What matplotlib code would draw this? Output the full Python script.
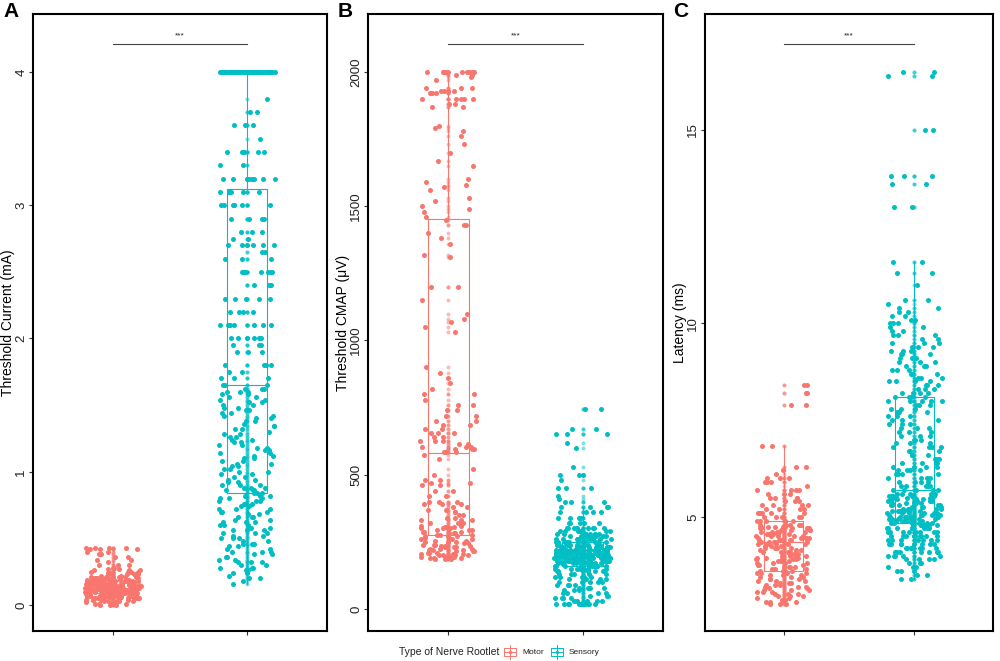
import numpy as np
import matplotlib.pyplot as plt

plt.rcParams['font.family'] = ['Liberation Sans', 'DejaVu Sans']

MOTOR_COL = '#F8766D'
SENS_COL = '#00BFC4'

# --- Panel A: threshold current (mA) (value, count)
motor_current_vals = [0.00, 0.01, 0.02, 0.03, 0.04, 0.05, 0.06, 0.07, 0.08, 0.09, 0.10, 0.11,
                      0.12, 0.13, 0.14, 0.15, 0.16, 0.17, 0.18, 0.19, 0.20, 0.21, 0.22, 0.23,
                      0.24, 0.25, 0.26, 0.27, 0.28, 0.30, 0.32, 0.34, 0.36, 0.38, 0.40, 0.42, 0.43]
motor_current_counts = [3, 3, 4, 5, 6, 8, 9, 10, 11, 12, 14, 14, 15, 14, 13, 12, 11, 10, 9, 8, 7, 6,
                        5, 4, 4, 4, 3, 2, 2, 3, 1, 2, 2, 2, 2, 3, 4]

sens_current_vals = [0.16, 0.18, 0.20, 0.22, 0.24, 0.26, 0.28, 0.30, 0.32, 0.34, 0.36, 0.38, 0.40,
                     0.42, 0.44, 0.46, 0.48, 0.50, 0.52, 0.54, 0.56, 0.58, 0.60, 0.62, 0.64, 0.66,
                     0.68, 0.70, 0.72, 0.74, 0.76, 0.78, 0.80, 0.82,
                     0.84, 0.86, 0.88, 0.90, 0.92, 0.94, 0.96, 0.98, 1.00, 1.02, 1.04, 1.06, 1.08,
                     1.10, 1.12, 1.14, 1.16, 1.18, 1.20, 1.22, 1.24, 1.26, 1.28, 1.30, 1.32, 1.34,
                     1.36, 1.38, 1.40, 1.42, 1.44, 1.46, 1.48, 1.50, 1.52, 1.54, 1.56, 1.58, 1.60, 1.62,
                     1.65, 1.70, 1.75, 1.80, 1.90, 1.95, 2.00, 2.10, 2.20, 2.30, 2.40, 2.50, 2.60,
                     2.65, 2.70, 2.75, 2.80, 2.90, 3.00, 3.10,
                     3.20, 3.30, 3.40, 3.50, 3.60, 3.70, 3.80, 4.00]
sens_current_counts = [1, 1, 2, 1, 2, 2, 3, 2, 3, 2, 2, 2, 3, 2, 2, 3, 2, 3, 2, 3, 3, 2, 3, 3, 2, 3,
                       2, 3, 3, 2, 3, 3, 3, 3,
                       3, 3, 3, 3, 2, 2, 2, 2, 2, 2, 2, 2, 2, 2, 2, 2, 2, 2, 2, 2, 2, 2, 2, 1, 2, 2,
                       1, 2, 2, 2, 2, 2, 2, 2, 2, 2, 2, 2, 3, 3,
                       3, 3, 2, 4, 3, 3, 6, 7, 4, 5, 4, 7, 3, 2, 6, 2, 3, 4, 7, 6,
                       8, 2, 5, 1, 3, 2, 1, 61]

# --- Panel B: threshold CMAP (uV)
motor_cmap_vals = [185, 190, 195, 200, 205, 210, 215, 220, 225, 230, 235, 240, 245, 250, 255, 260,
                   265, 270, 275,
                   282, 288, 295, 300, 305, 310, 320, 330, 340, 350, 360, 370, 380, 390, 400, 420,
                   440, 460, 470, 480, 500, 520, 560, 575,
                   585, 595, 605, 615, 625, 640, 655, 670, 685, 700, 720, 740, 760, 780, 800, 820,
                   840, 860, 880, 900, 1030, 1050, 1070, 1080, 1100, 1150, 1200, 1310, 1320, 1360,
                   1380, 1400, 1430,
                   1450, 1460, 1480, 1490, 1500, 1520, 1530, 1560, 1570, 1580, 1590, 1600, 1650,
                   1670, 1700, 1730, 1760, 1780, 1790, 1800, 1870, 1880, 1900, 1920, 1930, 1940,
                   1970, 1980, 1990, 2000]
motor_cmap_counts = [3, 4, 4, 4, 3, 3, 3, 3, 3, 3, 3, 3, 2, 3, 2, 3, 2, 3, 3,
                     3, 3, 3, 3, 3, 2, 3, 3, 2, 2, 2, 2, 2, 3, 3, 2, 2, 2, 2, 2, 1, 1, 1, 1,
                     3, 3, 3, 2, 3, 2, 3, 2, 2, 2, 2, 2, 2, 1, 2, 1, 1, 1, 1, 1, 1, 1, 1, 1, 1,
                     1, 2, 1, 1, 1, 1, 1, 2,
                     1, 1, 1, 1, 1, 1, 1, 1, 1, 1, 1, 1, 1, 1, 1, 1, 1, 1, 1, 1, 2, 2, 5, 4, 4,
                     3, 1, 1, 2, 12]

sens_cmap_vals = [20, 30, 40, 50, 60, 70, 80, 90, 100, 110, 120, 130, 140, 150, 160, 170, 180, 190,
                  200, 210, 220, 230, 240, 250, 260, 270, 280, 290, 300, 320, 340, 360, 380, 400,
                  410, 420, 450, 480, 500, 530, 600, 620, 650, 670, 746]
sens_cmap_counts = [12, 5, 4, 3, 4, 3, 4, 4, 5, 4, 5, 5, 6, 8, 12, 14, 18, 22, 25, 25, 22, 18, 14,
                    12, 10, 8, 8, 6, 8, 5, 4, 4, 4, 3, 1, 1, 3, 1, 3, 1, 1, 1, 3, 2, 2]

# --- Panel C: latency (ms)
motor_lat_vals = [2.75, 2.80, 2.85, 2.90, 2.95, 3.00, 3.05, 3.10, 3.15, 3.20, 3.25, 3.30, 3.35,
                  3.40, 3.45, 3.50, 3.55,
                  3.60, 3.65, 3.70, 3.75, 3.80, 3.85, 3.90, 3.95, 4.00, 4.05, 4.10, 4.15, 4.20, 4.25,
                  4.30, 4.35, 4.40, 4.45, 4.50, 4.55, 4.60, 4.65, 4.70, 4.75, 4.80,
                  4.90, 5.00, 5.10, 5.20, 5.30, 5.40, 5.50, 5.60, 5.70, 5.80, 5.90, 6.00, 6.10,
                  6.20, 6.30, 6.83, 7.90, 8.20, 8.40]
motor_lat_counts = [3, 3, 3, 2, 3, 3, 3, 3, 2, 3, 3, 3, 3, 3, 3, 3, 4,
                    4, 3, 4, 3, 4, 3, 4, 3, 4, 3, 4, 3, 4, 3,
                    5, 5, 5, 5, 5, 5, 5, 5, 5, 5, 5,
                    6, 5, 5, 4, 4, 3, 4, 3, 4, 1, 3, 3, 1, 1, 2, 2, 2, 2, 2]

sens_lat_vals = [3.40, 3.50, 3.60, 3.70, 3.80, 3.90, 4.00, 4.10, 4.20, 4.30, 4.40, 4.50, 4.60,
                 4.70, 4.80,
                 4.85, 4.90, 4.95, 5.00, 5.05, 5.10, 5.15, 5.20, 5.25, 5.30, 5.35, 5.40, 5.45,
                 5.50, 5.55,
                 5.60, 5.70, 5.80, 5.90, 6.00, 6.10, 6.20, 6.30, 6.40, 6.50, 6.60, 6.70, 6.80,
                 6.90, 7.00, 7.10, 7.20, 7.30, 7.40, 7.50, 7.60, 7.70, 7.80, 7.90,
                 8.00, 8.10, 8.20, 8.30, 8.40, 8.50, 8.60, 8.70, 8.80, 8.90, 9.00, 9.10, 9.20,
                 9.30, 9.40, 9.50, 9.60, 9.70, 9.80, 9.90, 10.0, 10.1, 10.2, 10.3, 10.4, 10.5,
                 10.6, 11.0, 11.3, 11.6, 13.0, 13.6, 13.8, 15.0, 16.4, 16.5]
sens_lat_counts = [2, 2, 3, 3, 3, 4, 5, 7, 7, 8, 8, 9, 9, 8, 8,
                   6, 7, 6, 7, 6, 6, 6, 5, 5, 5, 5, 5, 4, 5, 5,
                   5, 5, 5, 4, 4, 4, 4, 4, 4, 4, 3, 3, 4, 3, 3, 3, 3, 3, 3, 3, 3, 3, 3, 3,
                   5, 4, 4, 3, 3, 4, 3, 3, 3, 3, 3, 3, 3, 3, 3, 3, 2, 3, 2, 2, 3, 2, 2, 2, 2,
                   1, 2, 1, 2, 2, 2, 2, 3, 2, 2, 2]

panels = [
    ('A', 'Threshold Current (mA)', motor_current_vals, motor_current_counts,
     sens_current_vals, sens_current_counts, [0, 1, 2, 3, 4], (-0.195, 4.435), 4.21),
    ('B', 'Threshold CMAP (\u03bcV)', motor_cmap_vals, motor_cmap_counts,
     sens_cmap_vals, sens_cmap_counts, [0, 500, 1000, 1500, 2000], (-82, 2216), 2104),
    ('C', 'Latency (ms)', motor_lat_vals, motor_lat_counts,
     sens_lat_vals, sens_lat_counts, [5, 10, 15], (2.05, 18.0), 17.22),
]

# axes boxes in pixels: left, right; y-label right edge; panel letter x
ax_px = [(33, 327), (368, 663), (705, 993)]
label_px = [15, 350, 687]
letter_px = [3, 338, 673]


def jitter(n, half=0.21):
    # deterministic hash spread for the horizontal jitter
    k = np.arange(1, n + 1)
    u = np.modf(np.abs(np.sin(k * 12.9898 + 78.233) * 43758.5453))[0]
    return (u - 0.5) * 2 * half


def draw_group(ax, x, vals, color):
    ax.boxplot(vals, positions=[x], widths=0.3, showcaps=False, showfliers=False,
               boxprops=dict(color=color, lw=0.8),
               whiskerprops=dict(color=color, lw=0.8),
               medianprops=dict(color=color, lw=0.8))
    ax.scatter(np.full(len(vals), x), vals, s=8, color=color, alpha=0.5, lw=0, zorder=2.5)
    ax.scatter(x + jitter(len(vals)), vals, s=13, color=color, lw=0, zorder=3)


fig = plt.figure(figsize=(10, 6.61), dpi=100)

for (letter, ylabel, mv, mc, sv, sc, yt, ylim, sig_y), (l, r), lab, lx in zip(
        panels, ax_px, label_px, letter_px):
    ax = fig.add_axes([l / 1000, 30 / 661, (r - l) / 1000, 617 / 661])
    motor = np.repeat(np.array(mv, float), mc)
    sens = np.repeat(np.array(sv, float), sc)
    draw_group(ax, 1, motor, MOTOR_COL)
    draw_group(ax, 2, sens, SENS_COL)

    ax.plot([1, 2], [sig_y, sig_y], color='#444444', lw=0.8)
    ax.text(1.5, sig_y + (ylim[1] - ylim[0]) * 0.008, '***', ha='center', va='bottom',
            fontsize=6, color='#222222')

    ax.set_xlim(0.4, 2.6)
    ax.set_ylim(*ylim)
    ax.set_xticks([1, 2])
    ax.set_xticklabels(['', ''])
    ax.set_yticks(yt)
    ax.set_yticklabels([str(t) for t in yt], rotation=90, va='center', fontsize=9.5,
                       color='#222222')
    ax.tick_params(length=3, width=0.8, color='#333333', pad=1)
    ax.set_ylabel(ylabel, fontsize=10)
    ax.yaxis.set_label_coords((lab - l) / (r - l), 0.5)
    for sp in ax.spines.values():
        sp.set_linewidth(1.5)
        sp.set_color('black')
    fig.text(lx / 1000, 1 - 2 / 661, letter, fontsize=15, fontweight='bold',
             ha='left', va='top')

# legend along the bottom, drawn in pixel coordinates
lg = fig.add_axes([0, 0, 1, 1])
lg.set_xlim(0, 1000)
lg.set_ylim(661, 0)
lg.axis('off')
lg.text(399, 652, 'Type of Nerve Rootlet', fontsize=7.5, va='center', ha='left', color='#222222')
for cx, col, name in [(510, MOTOR_COL, 'Motor'), (557, SENS_COL, 'Sensory')]:
    lg.plot([cx - 6, cx + 6, cx + 6, cx - 6, cx - 6], [648, 648, 656, 656, 648], color=col, lw=0.7)
    lg.plot([cx, cx], [645, 659], color=col, lw=0.7)
    lg.plot([cx - 6, cx + 6], [652, 652], color=col, lw=0.7)
    lg.scatter([cx], [652], s=6, color=col, lw=0)
    lg.text(cx + 12, 652, name, fontsize=6, va='center', ha='left', color='#222222')

fig.savefig('out.png', dpi=100)
